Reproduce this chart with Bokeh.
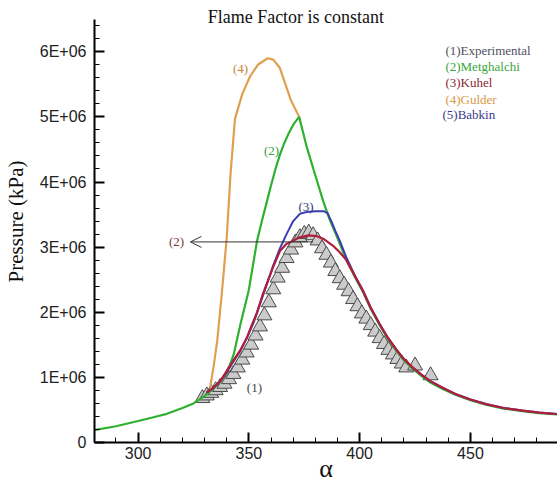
from bokeh.plotting import figure
from bokeh.models import Range1d, SingleIntervalTicker, Label, Arrow, OpenHead, ColumnDataSource
from bokeh.core.properties import value
from bokeh.embed import file_html
from bokeh.resources import INLINE

# ---------------- data (pressure in units of 1E+06) ----------------
exp_x = [329, 331, 333, 335, 337, 339, 341, 343, 345, 347, 349, 351, 353, 355, 357, 359, 361, 363,
         365, 367, 369, 371, 373, 375, 377, 379, 381, 383, 385, 387, 389, 391, 393, 395, 397, 399,
         401, 403, 405, 407, 409, 411, 413, 415, 417, 419, 421, 425, 432]
exp_y = [0.68, 0.72, 0.76, 0.80, 0.85, 0.90, 0.97, 1.05, 1.15, 1.27, 1.38, 1.50, 1.64, 1.78, 1.95, 2.15,
         2.35, 2.53, 2.68, 2.83, 2.96, 3.07, 3.15, 3.20, 3.22, 3.18, 3.10, 2.98, 2.88, 2.76, 2.63, 2.52,
         2.42, 2.32, 2.20, 2.09, 1.98, 1.90, 1.80, 1.70, 1.60, 1.51, 1.42, 1.35, 1.28, 1.21, 1.15, 1.18,
         1.03]

metghalchi_x = [280, 290, 300, 306, 313, 320, 325, 328, 331, 334, 337, 339.5, 341.5, 343.2, 346.2, 349.9,
                353.7, 356, 358.2, 360, 362, 364, 366, 368, 370, 372.7, 376, 380, 383.5, 386.5, 389.5,
                392, 394, 398, 401.5, 405, 409, 412.5, 416.5, 420, 424, 428, 431.5, 437.5, 443.5, 450,
                457, 465, 473.5, 481, 490]
metghalchi_y = [0.19, 0.25, 0.33, 0.38, 0.44, 0.53, 0.60, 0.67, 0.74, 0.83, 0.93, 1.05, 1.20, 1.36, 1.82,
                2.33, 3.10, 3.42, 3.71, 3.95, 4.20, 4.42, 4.60, 4.75, 4.88, 5.00, 4.55, 4.10, 3.71, 3.42,
                3.18, 2.97, 2.80, 2.53, 2.31, 2.05, 1.80, 1.60, 1.41, 1.26, 1.13, 1.02, 0.93, 0.82, 0.73,
                0.65, 0.58, 0.52, 0.48, 0.45, 0.43]

gulder_x = [332.5, 334.2, 335.7, 337.8, 340, 341.7, 343.7, 347, 350.5, 354, 358.5, 361, 364, 366.5, 369, 372.7]
gulder_y = [0.84, 1.20, 1.56, 2.30, 3.15, 4.12, 4.97, 5.35, 5.62, 5.80, 5.90, 5.88, 5.75, 5.50, 5.25, 5.00]

kuhel_x = [331, 334, 337, 340, 343, 346, 349, 351, 353.5, 356, 358, 361, 364, 367, 370, 373, 377, 380.5,
           384, 388, 391, 394, 398, 401.5, 405, 409, 412.5, 416.5, 420, 424, 428, 431.5, 437.5, 443.5,
           450, 457, 465, 473.5, 481, 490]
kuhel_y = [0.77, 0.84, 0.94, 1.10, 1.26, 1.41, 1.60, 1.78, 1.98, 2.25, 2.43, 2.70, 2.94, 3.05, 3.10, 3.15,
           3.18, 3.17, 3.12, 3.02, 2.92, 2.80, 2.55, 2.33, 2.07, 1.82, 1.62, 1.43, 1.28, 1.15, 1.04, 0.95,
           0.84, 0.74, 0.66, 0.59, 0.53, 0.49, 0.46, 0.435]

babkin_x = [331, 334, 337, 340, 343, 346, 349, 352, 355, 358, 361, 364, 367, 370, 373, 376, 380, 384,
            385.5, 387.2, 389, 391, 394, 398, 401.5, 405, 409, 412.5, 416.5, 420, 424, 428, 431.5,
            437.5, 443.5, 450, 457, 465, 473.5, 481, 490]
babkin_y = [0.77, 0.84, 0.94, 1.08, 1.24, 1.40, 1.60, 1.83, 2.12, 2.42, 2.72, 2.98, 3.20, 3.40, 3.51,
            3.54, 3.55, 3.55, 3.52, 3.40, 3.25, 3.10, 2.84, 2.55, 2.33, 2.07, 1.82, 1.62, 1.43, 1.28,
            1.15, 1.04, 0.95, 0.84, 0.74, 0.66, 0.59, 0.53, 0.49, 0.46, 0.435]

legend_labels = ["(1)Experimental", "(2)Metghalchi", "(3)Kuhel", "(4)Gulder", "(5)Babkin"]
legend_colors = ["#505060", "#3aa63a", "#8b1f33", "#d99a48", "#3a3a8c"]

y_ticks = [0, 1000000, 2000000, 3000000, 4000000, 5000000, 6000000]
y_tick_labels = ["0", "1E+06", "2E+06", "3E+06", "4E+06", "5E+06", "6E+06"]

S = 1e6
SERIF = "Liberation Serif"

p = figure(width=557, height=488, output_backend="svg", toolbar_location=None,
           x_range=Range1d(280.3, 489.3), y_range=Range1d(0, 6.787e6),
           min_border_left=94, min_border_right=0, min_border_top=0, min_border_bottom=46)
p.grid.visible = False
p.outline_line_color = None
p.background_fill_color = "white"

for ax in (p.xaxis[0], p.yaxis[0]):
    ax.axis_line_width = 2
    ax.axis_line_color = "black"
    ax.major_tick_line_width = 2
    ax.major_tick_line_color = "black"
    ax.minor_tick_line_color = "black"
    ax.minor_tick_line_width = 1
    ax.major_tick_in = 10
    ax.major_tick_out = 0
    ax.minor_tick_in = 5
    ax.minor_tick_out = 0
    ax.major_label_text_font = "Liberation Sans"
    ax.major_label_text_font_size = "16px"
    ax.major_label_text_color = "#222222"

p.xaxis[0].ticker = SingleIntervalTicker(interval=50, num_minor_ticks=5)
p.xaxis[0].major_label_standoff = 4
p.xaxis[0].axis_label = "α"
p.xaxis[0].axis_label_text_font = SERIF
p.xaxis[0].axis_label_text_font_size = "26px"
p.xaxis[0].axis_label_text_font_style = "normal"
p.xaxis[0].axis_label_text_color = "#111111"
p.xaxis[0].axis_label_standoff = -8

p.yaxis[0].bounds = (0, 6.5e6)
p.yaxis[0].ticker = SingleIntervalTicker(interval=1e6, num_minor_ticks=5)
p.yaxis[0].major_label_overrides = {t: s for t, s in zip(y_ticks, y_tick_labels)}
p.yaxis[0].major_label_standoff = 8
p.yaxis[0].axis_label = "Pressure (kPa)"
p.yaxis[0].axis_label_text_font = SERIF
p.yaxis[0].axis_label_text_font_size = "21px"
p.yaxis[0].axis_label_text_font_style = "normal"
p.yaxis[0].axis_label_text_color = "#111111"
p.yaxis[0].axis_label_standoff = 9

# experimental markers
p.scatter(exp_x, [y * S for y in exp_y], marker="triangle", size=15,
          fill_color="#cbcbcb", line_color="#4a4a4a", line_width=1)

# model curves
p.line(gulder_x, [y * S for y in gulder_y], line_color="#dfa050", line_width=2.2)
p.line(metghalchi_x, [y * S for y in metghalchi_y], line_color="#2fb02f", line_width=2.2)
p.line(babkin_x, [y * S for y in babkin_y], line_color="#3c3cb4", line_width=2.0)
p.line(kuhel_x, [y * S for y in kuhel_y], line_color="#b01e3c", line_width=2.2)

# legend as text
leg = ColumnDataSource(dict(x=[438.7, 438.7, 438.7, 438.7, 437.4],
                            y=[6.02e6, 5.77e6, 5.53e6, 5.27e6, 5.03e6],
                            t=legend_labels, c=legend_colors))
p.text(x="x", y="y", text="t", text_color="c", source=leg, text_font=value(SERIF),
       text_font_size="13px", text_baseline="middle", text_align="left")

# curve labels
def lab(x, y, t, c, size="13px"):
    p.add_layout(Label(x=x, y=y, text=t, text_color=c, text_font=SERIF, text_font_size=size,
                       text_align="center", text_baseline="middle"))

lab(346.2, 5.74e6, "(4)", "#c8883a")
lab(360.2, 4.48e6, "(2)", "#3c9c3c")
lab(375.8, 3.62e6, "(3)", "#3a3a7a")
lab(352.5, 0.84e6, "(1)", "#444444")
lab(317.3, 3.08e6, "(2)", "#7a3a3a")

p.add_layout(Arrow(end=OpenHead(size=11, line_color="#333333", line_width=1),
                   x_start=379, y_start=3.08e6, x_end=323.6, y_end=3.08e6,
                   line_color="#333333", line_width=1))

# title
lab(371.2, 6.526e6, "Flame Factor is constant", "#111111", "18px")

open("out.html", "w").write(file_html(p, INLINE))
